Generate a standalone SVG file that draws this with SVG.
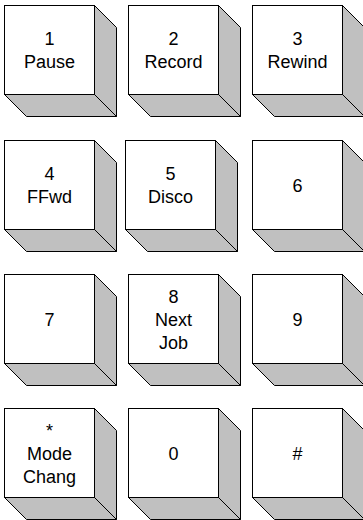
<svg xmlns="http://www.w3.org/2000/svg" width="363" height="520" viewBox="0 0 363 520">
<style>
.face{fill:#ffffff;stroke:#000000;stroke-width:1}
.shade{fill:#c0c0c0;stroke:#000000;stroke-width:1;stroke-linejoin:miter}
text{font-family:"Liberation Sans",Arial,sans-serif;font-size:18px;fill:#000000;text-anchor:middle}
</style>
<defs>
<g id="key">
<polygon class="shade" points="90,0 112,22 112,111 90,89"/>
<polygon class="shade" points="0,89 90,89 112,111 22,111"/>
<rect class="face" x="0" y="0" width="90" height="89"/>
</g>
</defs>
<g id="connectors"/>
<g id="k1" transform="translate(4.5,5.5)"><use href="#key"/><text x="45" y="39.5">1</text><text x="45" y="62.5">Pause</text></g>
<g id="k2" transform="translate(128.5,5.5)"><use href="#key"/><text x="45" y="39.5">2</text><text x="45" y="62.5">Record</text></g>
<g id="k3" transform="translate(252.5,5.5)"><use href="#key"/><text x="45" y="39.5">3</text><text x="45" y="62.5">Rewind</text></g>
<g id="k4" transform="translate(4.5,140.5)"><use href="#key"/><text x="45" y="39.5">4</text><text x="45" y="62.5">FFwd</text></g>
<g id="k5" transform="translate(125.5,140.5)"><use href="#key"/><text x="45" y="39.5">5</text><text x="45" y="62.5">Disco</text></g>
<g id="k6" transform="translate(252.5,140.5)"><use href="#key"/><text x="45" y="51">6</text></g>
<g id="k7" transform="translate(4.5,274.5)"><use href="#key"/><text x="45" y="51">7</text></g>
<g id="k8" transform="translate(128.5,274.5)"><use href="#key"/><text x="45" y="28">8</text><text x="45" y="51">Next</text><text x="45" y="74">Job</text></g>
<g id="k9" transform="translate(252.5,274.5)"><use href="#key"/><text x="45" y="51">9</text></g>
<g id="kstar" transform="translate(4.5,408.5)"><use href="#key"/><text x="45" y="28">*</text><text x="45" y="51">Mode</text><text x="45" y="74">Chang</text></g>
<g id="k0" transform="translate(128.5,408.5)"><use href="#key"/><text x="45" y="51">0</text></g>
<g id="khash" transform="translate(252.5,408.5)"><use href="#key"/><text x="45" y="51">#</text></g>
</svg>
